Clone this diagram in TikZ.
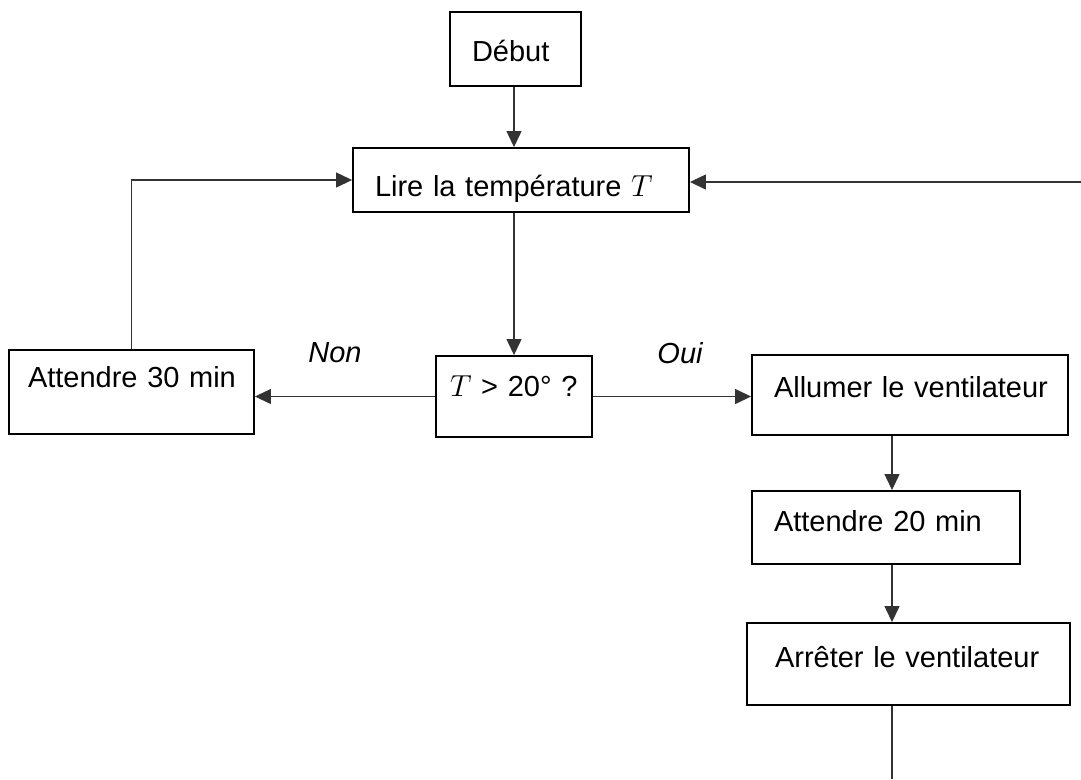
\documentclass[tikz,border=0pt]{standalone}
\usepackage{fontspec}
\setmainfont{Liberation Sans}
\usepackage{tikz}
\usetikzlibrary{arrows.meta,positioning}

\newlength{\boxpad}
\begin{document}
\begin{tikzpicture}[x=0.02cm,y=-0.02cm,
    pad/.code={\setlength{\boxpad}{#1}},
    box/.style={draw,line width=1.1pt,inner xsep=0pt,align=left,pad=0.44cm,
        font=\fontsize{16.5}{19}\selectfont,text height=0.72em,text depth=0pt,
        execute at begin node={\hspace*{\boxpad}}},
    link/.style={line width=0.7pt,black!80},
    arr/.style={link,-{Triangle[length=0.32cm,width=0.3cm]}},
    branch/.style={font=\fontsize{16.5}{19}\selectfont\itshape}]
    \useasboundingbox (0,0) rectangle (1081,779);
    % boxes
    \node[box,text width=2.62cm,minimum height=1.48cm,text height=0.5cm] (debut) at (515.5,49) {Début};
    \node[box,text width=6.72cm,minimum height=1.28cm,text height=0.66cm] (lire) at (521,180) {Lire la température $T$};
    \node[box,pad=0.28cm,text width=3.12cm,minimum height=1.62cm,text depth=0.24cm] (test) at (514,396.5) {$T$ > 20° ?};
    \node[box,pad=0.38cm,text width=4.9cm,minimum height=1.68cm,text depth=0.44cm] (wait30) at (131.5,392) {Attendre 30 min};
    \node[box,text width=6.32cm,minimum height=1.6cm,text depth=0.16cm] (fanon) at (910,395) {Allumer le ventilateur};
    \node[box,text width=5.36cm,minimum height=1.46cm,text depth=0.08cm] (wait20) at (886,527.5) {Attendre 20 min};
    \node[box,pad=0.56cm,text width=6.46cm,minimum height=1.64cm,text depth=0.12cm] (fanoff) at (908.5,664) {Arrêter le ventilateur};
    \node[branch] (non) at (335,353) {Non};
    \node[branch] (oui) at (680,353) {Oui};
    \coordinate (col) at (892,0);
    \coordinate (loopin) at (1081,182);
    \coordinate (loopout) at (892,779);
    % connectors
    \draw[arr] (debut.south -| test.north) -- (lire.north -| test.north);
    \draw[arr] (lire.south -| test.north) -- (test.north);
    \draw[arr] (wait30.north) -- (wait30.north |- lire.west) -- (lire.west);
    \draw[arr] (loopin) -- (loopin -| lire.east);
    \draw[arr] (test.west) -- (test.west -| wait30.east);
    \draw[arr] (test.east) -- (test.east -| fanon.west);
    \draw[arr] (col |- fanon.south) -- (col |- wait20.north);
    \draw[arr] (col |- wait20.south) -- (col |- fanoff.north);
    \draw[link] (col |- fanoff.south) -- (loopout);
\end{tikzpicture}
\end{document}
